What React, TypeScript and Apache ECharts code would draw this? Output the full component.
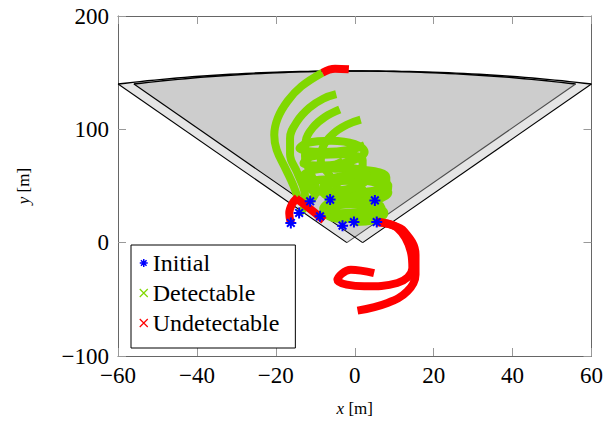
import React, { useEffect, useRef } from "react";
import * as echarts from "echarts";

// ---- axis ticks ----
const xTicks = [-60, -40, -20, 0, 20, 40, 60];
const yTicks = [-100, 0, 100, 200];

// ---- sensor fields of view (apex, range, half opening angle in degrees) ----
const sensorApexX = [-2, 2];
const sensorApexY = [0, 0];
const sensorRange = 151.5;
const sensorHalfAngle = 22.5;

// ---- initial positions ----
const initialX = [-16.2, -14.1, -11.3, -8.8, -6.25, -3.1, -0.2, 5.1, 5.57];
const initialY = [17.4, 26.2, 36.5, 23.2, 38.0, 15.0, 18.2, 37.3, 18.2];

// ---- detectable trajectory segments ----
const detArc1 = [[-14.5, 40], [-15.5, 50], [-17.5, 65], [-19.8, 82], [-20.4, 95], [-19.5, 110], [-17, 125], [-13.5, 138], [-8.2, 150]];
const detArc2 = [[-14.1, 26.2], [-12.5, 34], [-12.8, 46], [-14.6, 62], [-16.4, 78], [-16.4, 92], [-14.6, 107], [-11.5, 119], [-8, 127], [-4.7, 131]];
const detArc3 = [[-11.3, 36.5], [-9.8, 46], [-11, 60], [-12.6, 76], [-12.4, 90], [-10.5, 102], [-7.5, 111], [-3.8, 117.5]];
const detArc4 = [[-6.25, 38], [-4.5, 48], [-6.5, 60], [-8.6, 72], [-8, 85], [-5.5, 96], [-2, 104], [1.5, 108.5]];
const detHelixA = [[5.1, 37.3], [8.5, 44], [6, 52], [0, 55], [-6, 52], [-8, 45], [-4, 39], [2, 38], [7.5, 42], [8.5, 50], [5, 57], [-1, 59], [-7, 55], [-8, 48], [-3, 44], [3, 45], [8, 50], [8, 58], [3, 64], [-3, 65], [-6, 66], [-3, 72]];
const detHelixB = [[-0.2, 18.2], [5, 20], [7.5, 26], [5, 32], [-1, 34], [-6, 31], [-7, 25], [-3, 21], [3, 22], [7, 27], [6, 34], [0, 38], [-6, 36], [-8, 30], [-4, 26], [2, 27], [6.5, 31]];
const detHelixC = [[-8.8, 23.2], [-6, 30], [-2, 38], [2, 46], [0, 53], [-6, 56], [-12, 52], [-10, 45], [-4, 46], [2, 52], [3, 60], [-2, 66], [-9, 65], [-13, 59], [-9, 55], [-3, 58], [2, 65], [2, 73], [-4, 78], [-11, 76], [-13, 70], [-8, 68], [-1, 72], [2.5, 80], [0, 87], [-6, 90], [-12, 88], [-14, 83], [-8, 80], [-1, 82], [2.5, 86]];

// ---- undetectable trajectory segments ----
const undetTop = [[-8.2, 150], [-5, 153.5], [-1.5, 153]];
const undetLeft1 = [[-16.2, 17.4], [-16.6, 26], [-15.9, 34], [-14.5, 40]];
const undetLeft2 = [[-14.8, 39], [-12.5, 33], [-10, 26], [-7.8, 19.5]];
const undetSpiralOuter = [[5.57, 18.2], [9, 16], [12.5, 10], [15.4, -10.6], [15.4, -28.2], [13.3, -43], [8.3, -53.2], [0.7, -60]];
const undetSpiralInner = [[5.57, 18.2], [10.8, 13], [14.2, -7.7], [14.6, -22.4], [10.8, -35.6], [2.4, -38.5], [-4.4, -32.7], [-1, -23.8], [4.9, -26.8]];

const detectable = [detArc1, detArc2, detArc3, detArc4, detHelixA, detHelixB, detHelixC];
const undetectable = [undetTop, undetLeft1, undetLeft2, undetSpiralOuter, undetSpiralInner];

const GREEN = "#80d800";
const RED = "#ff0000";
const BLUE = "#0000ff";
const SERIF = "Liberation Serif";

const ASTERISK = "path://M5,0L5,10M0,5L10,5M1.5,1.5L8.5,8.5M1.5,8.5L8.5,1.5";
const CROSS = "path://M0,0L10,10M0,10L10,0";

const fmt = (v: number) => (v < 0 ? "\u2212" + -v : "" + v);

export default function App() {
  const ref = useRef<HTMLDivElement>(null);
  useEffect(() => {
    if (!ref.current) return;
    const chart = echarts.init(ref.current, undefined, { renderer: "svg" });

    const axisLine = { show: true, onZero: false, lineStyle: { color: "#666", width: 1 } };
    const axisTick = { show: true, inside: true, length: 8, lineStyle: { color: "#999", width: 1 } };

    const lineSeries = (name: string, color: string, data: number[][], z: number) => ({
      type: "line",
      name,
      data,
      xAxisIndex: 0,
      yAxisIndex: 0,
      smooth: 0.4,
      showSymbol: false,
      symbol: "none",
      silent: true,
      z,
      lineStyle: { color, width: 8, cap: "butt" },
      itemStyle: { color },
      emphasis: { disabled: true },
    });

    const option: any = {
      animation: false,
      textStyle: { fontFamily: SERIF },
      grid: { left: 118, right: 13, top: 16, bottom: 70, containLabel: false },
      xAxis: [
        {
          type: "value",
          min: -60,
          max: 60,
          interval: 20,
          position: "bottom",
          axisLine,
          axisTick,
          splitLine: { show: false },
          axisLabel: { formatter: fmt, fontSize: 23, fontFamily: SERIF, color: "#000", margin: 8 },
          name: "{i|x} [m]",
          nameLocation: "middle",
          nameGap: 44,
          nameTextStyle: {
            fontFamily: SERIF,
            fontSize: 17,
            color: "#000",
            rich: { i: { fontStyle: "italic", fontFamily: SERIF, fontSize: 17, color: "#000" } },
          },
        },
        {
          type: "value",
          min: -60,
          max: 60,
          interval: 20,
          position: "top",
          axisLine,
          axisTick,
          splitLine: { show: false },
          axisLabel: { show: false },
        },
      ],
      yAxis: [
        {
          type: "value",
          min: -100,
          max: 200,
          interval: 100,
          position: "left",
          axisLine,
          axisTick,
          splitLine: { show: false },
          axisLabel: { formatter: fmt, fontSize: 23, fontFamily: SERIF, color: "#000", margin: 9 },
          name: "{i|y} [m]",
          nameLocation: "middle",
          nameGap: 86,
          nameRotate: 90,
          nameTextStyle: {
            fontFamily: SERIF,
            fontSize: 17,
            color: "#000",
            rich: { i: { fontStyle: "italic", fontFamily: SERIF, fontSize: 17, color: "#000" } },
          },
        },
        {
          type: "value",
          min: -100,
          max: 200,
          interval: 100,
          position: "right",
          axisLine,
          axisTick,
          splitLine: { show: false },
          axisLabel: { show: false },
        },
      ],
      legend: {
        show: true,
        orient: "vertical",
        left: 131,
        top: 245,
        padding: [6, 16, 13, 8],
        itemGap: 6,
        itemWidth: 8,
        itemHeight: 8,
        backgroundColor: "#fff",
        borderColor: "#000",
        borderWidth: 1,
        borderRadius: 0,
        selectedMode: false,
        textStyle: { fontFamily: SERIF, fontSize: 24, lineHeight: 24, color: "#000" },
        data: [
          { name: "Initial", icon: ASTERISK, itemStyle: { color: BLUE, borderColor: BLUE, borderWidth: 1.5 } },
          { name: "Detectable", icon: CROSS, itemStyle: { color: GREEN, borderColor: GREEN, borderWidth: 1.2 } },
          { name: "Undetectable", icon: CROSS, itemStyle: { color: RED, borderColor: RED, borderWidth: 1.2 } },
        ],
      },
      series: [
        {
          type: "custom",
          name: "fov",
          xAxisIndex: 0,
          yAxisIndex: 0,
          silent: true,
          z: 1,
          data: sensorApexX.map((_, i) => [i]),
          renderItem: (params: any, api: any) => {
            const idx = api.value(0);
            const ax = sensorApexX[idx];
            const ay = sensorApexY[idx];
            const half = (sensorHalfAngle * Math.PI) / 180;
            const arc: number[][] = [];
            const n = 60;
            for (let k = 0; k <= n; k++) {
              const a = -half + (2 * half * k) / n;
              arc.push(api.coord([ax + sensorRange * Math.sin(a), ay + sensorRange * Math.cos(a)]));
            }
            const apex = api.coord([ax, ay]);
            const left = arc[0];
            const right = arc[arc.length - 1];
            return {
              type: "group",
              children: [
                { type: "polygon", shape: { points: [apex, ...arc] }, style: { fill: "rgba(0,0,0,0.1)", stroke: "none" } },
                { type: "polyline", shape: { points: arc }, style: { stroke: "#000", lineWidth: 1.4, fill: "none" } },
                { type: "line", shape: { x1: apex[0], y1: apex[1], x2: left[0], y2: left[1] }, style: { stroke: "#000", lineWidth: 1.1 } },
                { type: "line", shape: { x1: apex[0], y1: apex[1], x2: right[0], y2: right[1] }, style: { stroke: idx === 0 ? "#555" : "#000", lineWidth: 1.1 } },
              ],
            };
          },
        },
        ...detectable.map((d) => lineSeries("Detectable", GREEN, d, 2)),
        ...undetectable.map((d) => lineSeries("Undetectable", RED, d, 3)),
        {
          type: "scatter",
          name: "Initial",
          xAxisIndex: 0,
          yAxisIndex: 0,
          z: 4,
          silent: true,
          symbol: ASTERISK,
          symbolSize: 11,
          itemStyle: { color: BLUE, borderColor: BLUE, borderWidth: 2, opacity: 1 },
          data: initialX.map((x, i) => [x, initialY[i]]),
        },
      ],
    };
    chart.setOption(option);
    return () => chart.dispose();
  }, []);
  return <div ref={ref} style={{ position: "fixed", left: 0, top: 0, width: 606, height: 426, background: "#fff" }} />;
}
